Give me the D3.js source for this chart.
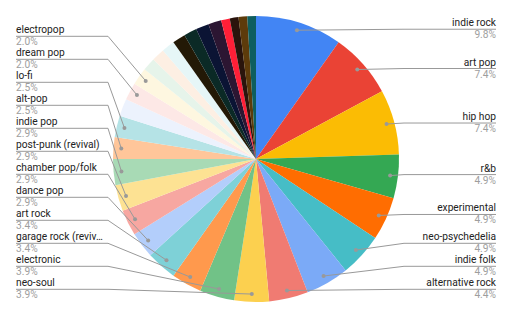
<!DOCTYPE html>
<html>
<head>
<meta charset="utf-8">
<script src="https://cdn.jsdelivr.net/npm/d3@7"></script>
<style>
  body { margin: 0; background: #fff; }
  text { font-family: Roboto, Arial, sans-serif; font-size: 10.2px; }
</style>
</head>
<body>
<div id="vis1"></div>
<script>
// frame constants
const FRAME_WIDTH = 512;
const FRAME_HEIGHT = 317;
const CX = 256;
const CY = 159;
const RADIUS = 143;

// data: genre counts (null = slice without a visible label)
const genres = ["indie rock", "art pop", "hip hop", "r&b", "experimental",
  "neo-psychedelia", "indie folk", "alternative rock", "neo-soul", "electronic",
  "garage rock (revival)", "art rock", "dance pop", "chamber pop/folk",
  "post-punk (revival)", "indie pop", "alt-pop", "lo-fi", null, "dream pop",
  "electropop", null, null, null, null, null, null, null, null, null, null, null];
const counts = [20, 15, 15, 10, 10, 10, 10, 9, 8, 8, 7, 7, 6, 6, 6, 6, 5, 5,
  4, 4, 4, 3, 3, 3, 3, 3, 3, 3, 2, 2, 2, 2];
const colors = ["#4285f4", "#ea4335", "#fbbc04", "#34a853", "#ff6d01", "#46bdc6",
  "#7baaf7", "#f07b72", "#fcd04f", "#71c287", "#ff994d", "#7ed1d7",
  "#b3cefb", "#f7a7a1", "#fde293", "#a8dab5", "#ffc69a", "#b5e3e6",
  "#ecf2fd", "#fde8e6", "#fef7e0", "#e6f4ea", "#fdefe3", "#e6f6f7",
  "#231906", "#0b2a26", "#0b1434", "#2c1632", "#ff1f37", "#2a140c", "#5d3b0b", "#0e5e5e"];

const total = d3.sum(counts);
const fmt = d3.format(".1%");

const FRAME1 = d3.select("#vis1")
  .append("svg")
    .attr("width", FRAME_WIDTH)
    .attr("height", FRAME_HEIGHT);

const pie = d3.pie().sort(null).value((d) => d.count);
const arc = d3.arc().innerRadius(0).outerRadius(RADIUS);

const data = genres.map((g, i) => ({name: g, count: counts[i], color: colors[i]}));
const arcs = pie(data);

const G = FRAME1.append("g")
  .attr("transform", "translate(" + CX + "," + CY + ")");

G.selectAll("path")
  .data(arcs)
  .enter()
  .append("path")
    .attr("d", arc)
    .attr("fill", (d) => d.data.color);

// label layout
const DOT_R = RADIUS * 0.945;
const GAP = 23;
const BOTTOM = 289.3;
const ELBOW = 148;
const TEXT_X = 240;
const MAX_W = 90;

const labels = arcs.filter((d) => d.data.name).map((d) => {
  const a = (d.startAngle + d.endAngle) / 2;
  const dx = CX + DOT_R * Math.sin(a);
  const dy = CY - DOT_R * Math.cos(a);
  return {d: d, side: a < Math.PI ? 1 : -1, dotX: dx, dotY: dy, want: dy - 1};
});

[1, -1].forEach((side) => {
  const list = labels.filter((l) => l.side === side).sort((a, b) => a.want - b.want);
  let next = BOTTOM + GAP;
  for (let i = list.length - 1; i >= 0; i--) {
    list[i].y = Math.min(list[i].want, next - GAP);
    next = list[i].y;
  }
});

const L = FRAME1.append("g");

L.selectAll("polyline")
  .data(labels)
  .enter()
  .append("polyline")
    .attr("points", (l) => {
      const ex = CX + l.side * ELBOW;
      const tx = CX + l.side * TEXT_X;
      return [[l.dotX, l.dotY], [ex, l.y], [tx, l.y]].join(" ");
    })
    .attr("fill", "none")
    .attr("stroke", "#999")
    .attr("stroke-width", 1);

L.selectAll("circle")
  .data(labels)
  .enter()
  .append("circle")
    .attr("cx", (l) => l.dotX)
    .attr("cy", (l) => l.dotY)
    .attr("r", 2)
    .attr("fill", "#999");

const names = L.selectAll(".name")
  .data(labels)
  .enter()
  .append("text")
    .attr("class", "name")
    .attr("x", (l) => CX + l.side * TEXT_X)
    .attr("y", (l) => l.y - 3)
    .attr("text-anchor", (l) => l.side > 0 ? "end" : "start")
    .attr("fill", "#222")
    .text((l) => l.d.data.name);

// truncate long names like the original does
names.each(function() {
  const t = d3.select(this);
  let s = t.text();
  if (this.getComputedTextLength() <= MAX_W) return;
  while (s.length > 1 && this.getComputedTextLength() > MAX_W) {
    s = s.slice(0, -1);
    t.text(s + "…");
  }
});

L.selectAll(".pct")
  .data(labels)
  .enter()
  .append("text")
    .attr("class", "pct")
    .attr("x", (l) => CX + l.side * TEXT_X)
    .attr("y", (l) => l.y + 9)
    .attr("text-anchor", (l) => l.side > 0 ? "end" : "start")
    .attr("fill", "#9e9e9e")
    .text((l) => fmt(l.d.data.count / total));
</script>
</body>
</html>
